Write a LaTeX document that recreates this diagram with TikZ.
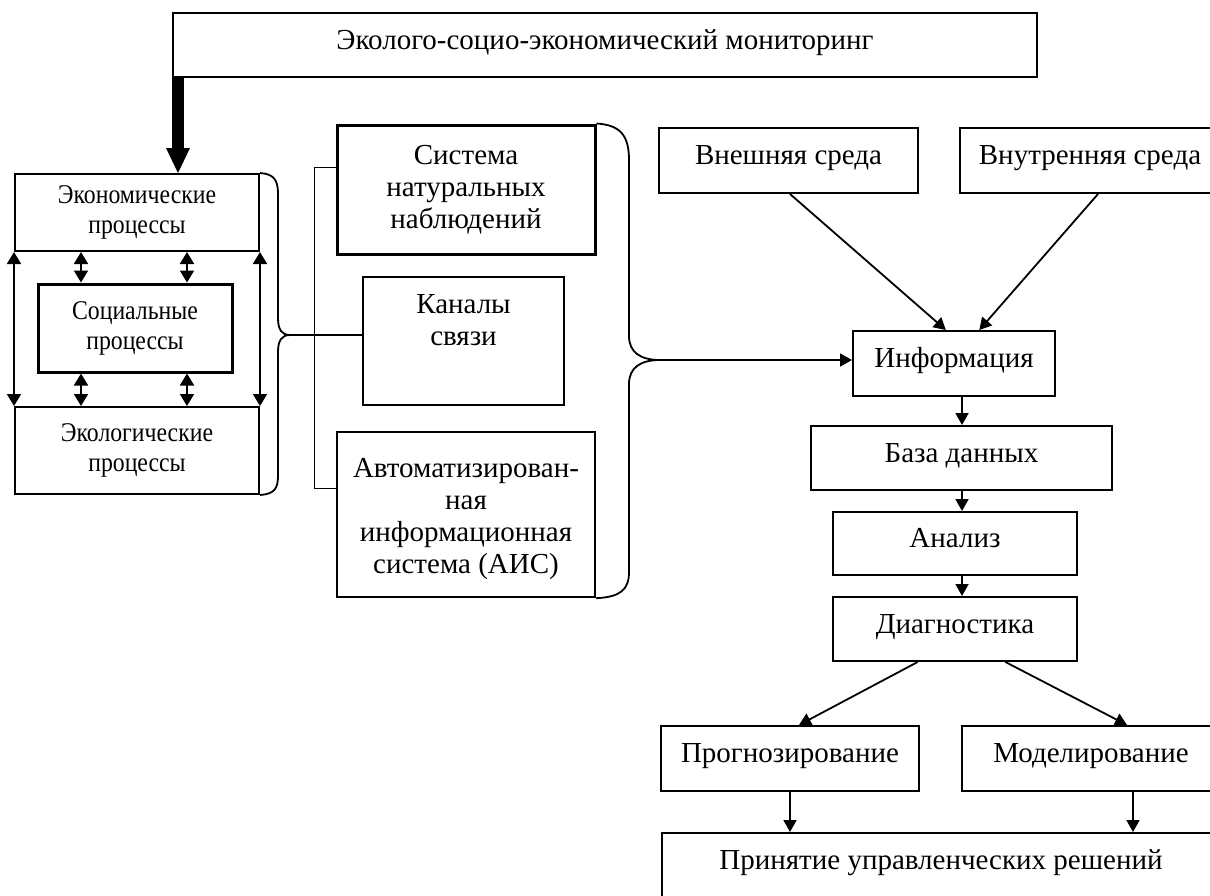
\documentclass[tikz,border=0pt]{standalone}
\usepackage{fontspec}
\setmainfont{Liberation Serif}
\newfontfamily\narrowfont[FakeStretch=0.88]{Liberation Serif}
\usetikzlibrary{arrows.meta,calc}
\begin{document}
\begin{tikzpicture}[x=1pt,y=-1pt,
  box/.style={draw, line width=2pt, inner sep=0pt, align=center,
    font=\fontsize{29}{32}\selectfont},
  txt/.style={inner sep=0pt, align=center, font=\fontsize{29}{32}\selectfont},
  one/.style={text height=17pt, text depth=9pt},
  thickbox/.style={box, line width=3pt},
  small/.style={font=\narrowfont\fontsize{27}{30}\selectfont},
  conn/.style={line width=1.8pt},
  arr/.style={line width=1.8pt, -{Triangle[length=12pt,width=13pt]}},
  darr/.style={line width=1.8pt, {Triangle[length=12pt,width=14pt]}-{Triangle[length=12pt,width=14pt]}}]
\useasboundingbox (0,0) rectangle (1210,895);
\clip (0,0) rectangle (1210,895);

% top
\node[box, one, minimum width=864pt, minimum height=64pt] (top) at (605,45) {Эколого-социо-экономический мониторинг};

% left block
\node[box, small, minimum width=244pt, minimum height=77pt] (econ) at (137,212.5) {Экономические\\процессы};
\node[thickbox, small, minimum width=194pt, minimum height=88pt] (social) at (135,328) {Социальные\\процессы};
\node[box, small, minimum width=244pt, minimum height=87pt] (ecol) at (137,450.5) {Экологические\\процессы};

% middle column
\node[thickbox, minimum width=258pt, minimum height=129pt] (sistema) at (466,189.5) {Система\\натуральных\\наблюдений};
\node[box, minimum width=201pt, minimum height=128pt] (kanaly) at (463.5,341) {Каналы\\связи\\\strut};
\node[box, line width=2.4pt, minimum width=258pt, minimum height=165pt] (ais) at (466,514.5) {};
\node[txt] (aistext) at ([yshift=-5pt]ais.center) {Автоматизирован-\\ная\\информационная\\система (АИС)};

% right column
\node[box, one, minimum width=259pt, minimum height=65pt] (vnesh) at (788.5,160.5) {Внешняя среда};
\node[box, one, minimum width=260pt, minimum height=65pt] (vnutr) at (1090,160.5) {Внутренняя среда};
\node[box, one, minimum width=202pt, minimum height=65pt] (inform) at (954,363.5) {Информация};
\node[box, one, minimum width=301pt, minimum height=64pt] (baza) at (961.5,458) {База данных};
\node[box, one, minimum width=244pt, minimum height=63pt] (analiz) at (955,543.5) {Анализ};
\node[box, one, minimum width=244pt, minimum height=64pt] (diag) at (955,629) {Диагностика};
\node[box, one, minimum width=258pt, minimum height=65pt] (prog) at (790,758.5) {Прогнозирование};
\node[box, one, minimum width=258pt, minimum height=65pt] (model) at (1091,758.5) {Моделирование};
\node[box, one, minimum width=558pt, minimum height=65pt] (prin) at (941,865.5) {Принятие управленческих решений};

% thick arrow top -> econ
\coordinate (ta) at ([xshift=6]top.south west);
\coordinate (tb) at (ta |- econ.north);
\fill ([xshift=-6]ta) rectangle ($(tb)+(6,-22)$);
\fill ($(tb)+(-12,-25)$) -- ($(tb)+(12,-25)$) -- (tb) -- cycle;

% left block arrows
\draw[darr] (econ.south west) -- (ecol.north west);
\draw[darr] (econ.south east) -- (ecol.north east);
\coordinate (i1) at ([xshift=67]econ.south west);
\coordinate (i2) at ([xshift=173]econ.south west);
\draw[darr] (i1) -- (i1 |- social.north);
\draw[darr] (i2) -- (i2 |- social.north);
\draw[darr] (i1 |- social.south) -- (i1 |- ecol.north);
\draw[darr] (i2 |- social.south) -- (i2 |- ecol.north);

% left brace
\coordinate (lb) at (290,335);
\draw[conn] (econ.north east) .. controls (274,174) and (278,180) .. (278,194)
  -- (278,318) .. controls (278,330) and (282,335) .. (lb)
  .. controls (282,335) and (278,340) .. (278,352)
  -- (278,476) .. controls (278,489) and (274,494) .. (ecol.south east);
\draw[conn] (lb) -- (lb -| kanaly.west);

% bracket
\coordinate (s1) at ($(sistema.north west)!0.333!(sistema.south west)$);
\coordinate (a1) at ($(ais.north west)!0.345!(ais.south west)$);
\draw[conn] (s1) -- ++(-21,0) |- (a1);

% right brace
\coordinate (rb) at (660,360);
\draw[conn] (sistema.north east) .. controls (620,125) and (629,135) .. (629,160)
  -- (629,336) .. controls (629,352) and (640,360) .. (rb)
  .. controls (640,360) and (629,368) .. (629,384)
  -- (629,572) .. controls (629,590) and (620,597) .. (ais.south east);
\draw[arr] (rb) -- (rb -| inform.west);

% right column arrows
\draw[arr] ([xshift=1.5]vnesh.south) -- ($(inform.north west)!0.46!(inform.north east)$);
\draw[arr] ([xshift=8]vnutr.south) -- ($(inform.north west)!0.624!(inform.north east)$);
\coordinate (v) at ([xshift=8]inform.south);
\draw[arr] (v) -- (v |- baza.north);
\draw[arr] (v |- baza.south) -- (v |- analiz.north);
\draw[arr] (v |- analiz.south) -- (v |- diag.north);
\draw[arr] ($(diag.south west)!0.348!(diag.south east)$) -- ([xshift=9]prog.north);
\draw[arr] ($(diag.south west)!0.705!(diag.south east)$) -- ([xshift=36]model.north);
\draw[arr] (prog.south) -- (prog.south |- prin.north);
\coordinate (m) at ([xshift=42]model.south);
\draw[arr] (m) -- (m |- prin.north);
\end{tikzpicture}
\end{document}
